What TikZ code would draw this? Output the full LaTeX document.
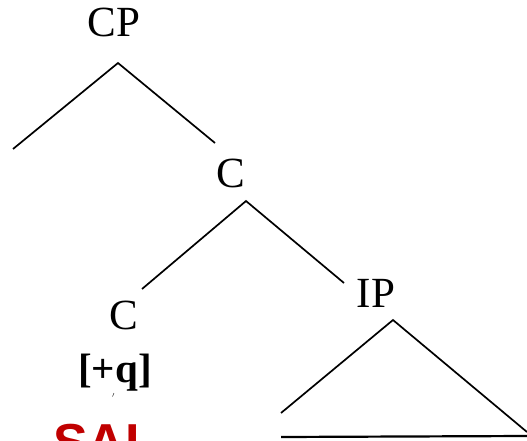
\documentclass[tikz,border=0pt]{standalone}
\usepackage{fontspec}
\setmainfont{Liberation Serif}
\newfontfamily\saifont{Liberation Sans}
\usetikzlibrary{positioning}

\definecolor{saired}{HTML}{C00000}

\begin{document}
\begin{tikzpicture}[x=1pt,y=-1pt,
    lbl/.style={inner sep=0pt,anchor=base,font=\fontsize{43}{50}\selectfont},
    branch/.style={line width=1.7pt}]
\useasboundingbox (0,0) rectangle (527,441);
\node[lbl](cp) at (114,37){CP};
\node[lbl](cbar) at (231,187){C};
\node[lbl](c) at (124,329){C};
\node[lbl](ip) at (376,307){IP};
\node[lbl,font=\fontsize{41}{48}\selectfont\bfseries](feat) at (115,382){[+q]};
\node[inner sep=0pt,anchor=base west,text=saired,font=\fontsize{52}{60}\selectfont\saifont\bfseries](sai) at (53,460){SAI};
% branch points and free ends
\coordinate (cptop) at (118,63);
\coordinate (spec) at (13,149);
\coordinate (cbarend) at (215,143);
\coordinate (cbartop) at (246,201);
\coordinate (cend) at (142,289);
\coordinate (ipend) at (344,283);
\coordinate (iptop) at (393,320);
\coordinate (triL) at (281,413);
\coordinate (triR) at (527,432);
\coordinate (baseL) at (281,437);
\coordinate (baseR) at (527,436);
\draw[branch] (spec) -- (cptop) -- (cbarend);
\draw[branch] (cend) -- (cbartop) -- (ipend);
\draw[branch] (triL) -- (iptop) -- (triR);
\draw[line width=2.2pt] (baseL) -- (baseR);
\draw[line width=0.4pt] (112.5,396.5) -- (114,393);
\end{tikzpicture}
\end{document}
